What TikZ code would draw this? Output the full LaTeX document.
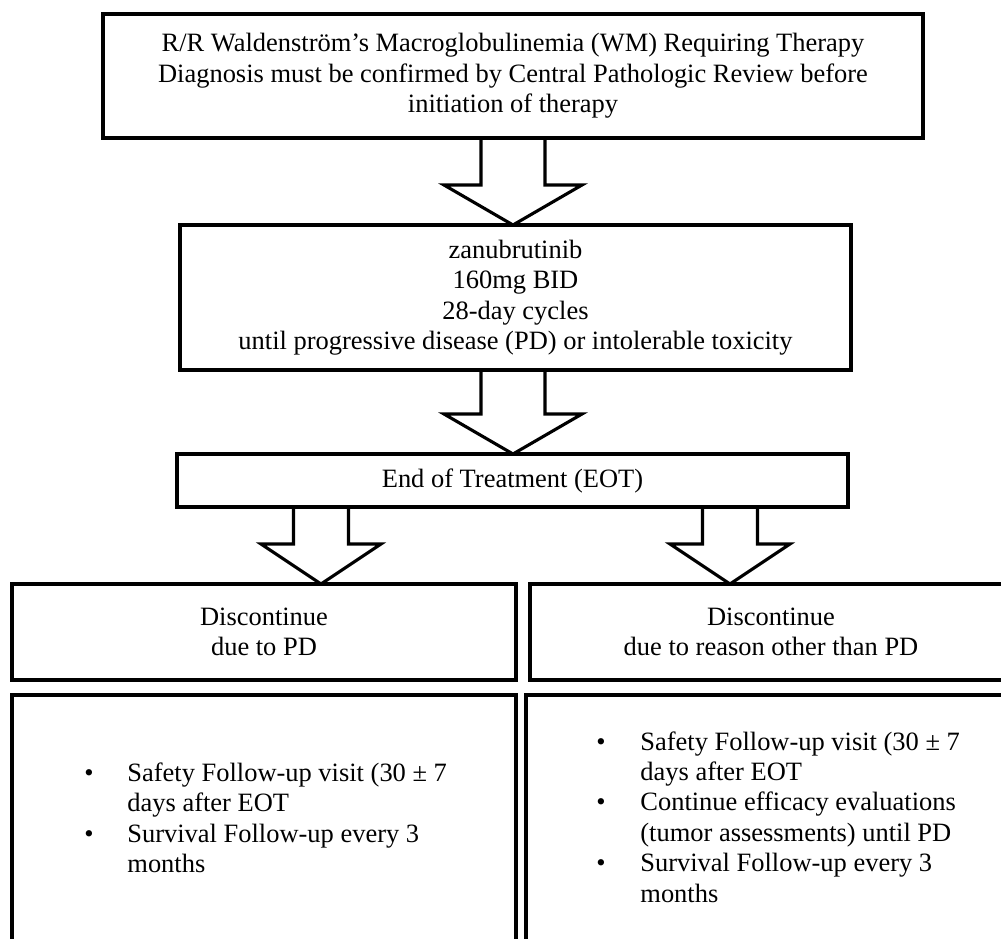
\documentclass[tikz,border=0pt]{standalone}
\usepackage{fontspec}
\setmainfont{Liberation Serif}
\usetikzlibrary{calc}

\newlength{\pxu}
\setlength{\pxu}{0.48pt}

% hollow block arrow: from node, to node, x, half shaft, half head
\newcommand{\blockarrow}[5]{%
	\draw[hollow] (#3-#4,0 |- #1.south) -- ($(#3-#4,0 |- #2.north)+(0,-40)$)
	-- ($(#3-#5,0 |- #2.north)+(0,-40)$) -- (#3,0 |- #2.north)
	-- ($(#3+#5,0 |- #2.north)+(0,-40)$) -- ($(#3+#4,0 |- #2.north)+(0,-40)$)
	-- (#3+#4,0 |- #1.south);}

\begin{document}
\begin{tikzpicture}[x=0.48pt,y=-0.48pt,
	box/.style={draw,line width=1.5pt,inner sep=0pt,outer sep=0pt,align=center,font=\fontsize{12.7}{14.6}\selectfont},
	listtext/.style={inner sep=0pt,anchor=west,font=\fontsize{12.7}{14.6}\selectfont},
	hollow/.style={line width=1.5pt,line join=miter}]
	\useasboundingbox (0,0) rectangle (1001,939);
	\node[box,minimum width=820*\pxu,minimum height=124*\pxu] (diag) at (513,76)
	{R/R Waldenström’s Macroglobulinemia (WM) Requiring Therapy\\
	Diagnosis must be confirmed by Central Pathologic Review before\\
	initiation of therapy};
	\node[box,minimum width=671*\pxu,minimum height=145*\pxu] (zanu) at (515.5,297.5)
	{zanubrutinib\\ 160mg BID\\ 28-day cycles\\
	until progressive disease (PD) or intolerable toxicity};
	\node[box,minimum width=671*\pxu,minimum height=53*\pxu] (eot) at (512.5,480.5)
	{End of Treatment (EOT)};
	\node[box,minimum width=504*\pxu,minimum height=96*\pxu] (dpd) at (264,632)
	{Discontinue\\ due to PD};
	\node[box,minimum width=482*\pxu,minimum height=96*\pxu] (dother) at (771,632)
	{Discontinue\\ due to reason other than PD};
	\node[box,minimum width=504*\pxu,minimum height=252*\pxu] (fpd) at (264,821) {};
	\node[box,minimum width=486*\pxu,minimum height=252*\pxu] (fother) at (769,821) {};
	\node[listtext] (pdlist) at (84,821) {\begin{tabular}{@{}p{43\pxu}@{}l@{}}
		\textbullet & Safety Follow-up visit (30 ± 7\\
		& days after EOT\\
		\textbullet & Survival Follow-up every 3\\
		& months
	\end{tabular}};
	\node[listtext] (otherlist) at (596,820) {\begin{tabular}{@{}p{44\pxu}@{}l@{}}
		\textbullet & Safety Follow-up visit (30 ± 7\\
		& days after EOT\\
		\textbullet & Continue efficacy evaluations\\
		& (tumor assessments) until PD\\
		\textbullet & Survival Follow-up every 3\\
		& months
	\end{tabular}};
	\blockarrow{diag}{zanu}{513}{32}{69}
	\blockarrow{zanu}{eot}{513}{32}{69}
	\blockarrow{eot}{dpd}{321}{27.5}{60}
	\blockarrow{eot}{dother}{730}{27.5}{60}
\end{tikzpicture}
\end{document}
